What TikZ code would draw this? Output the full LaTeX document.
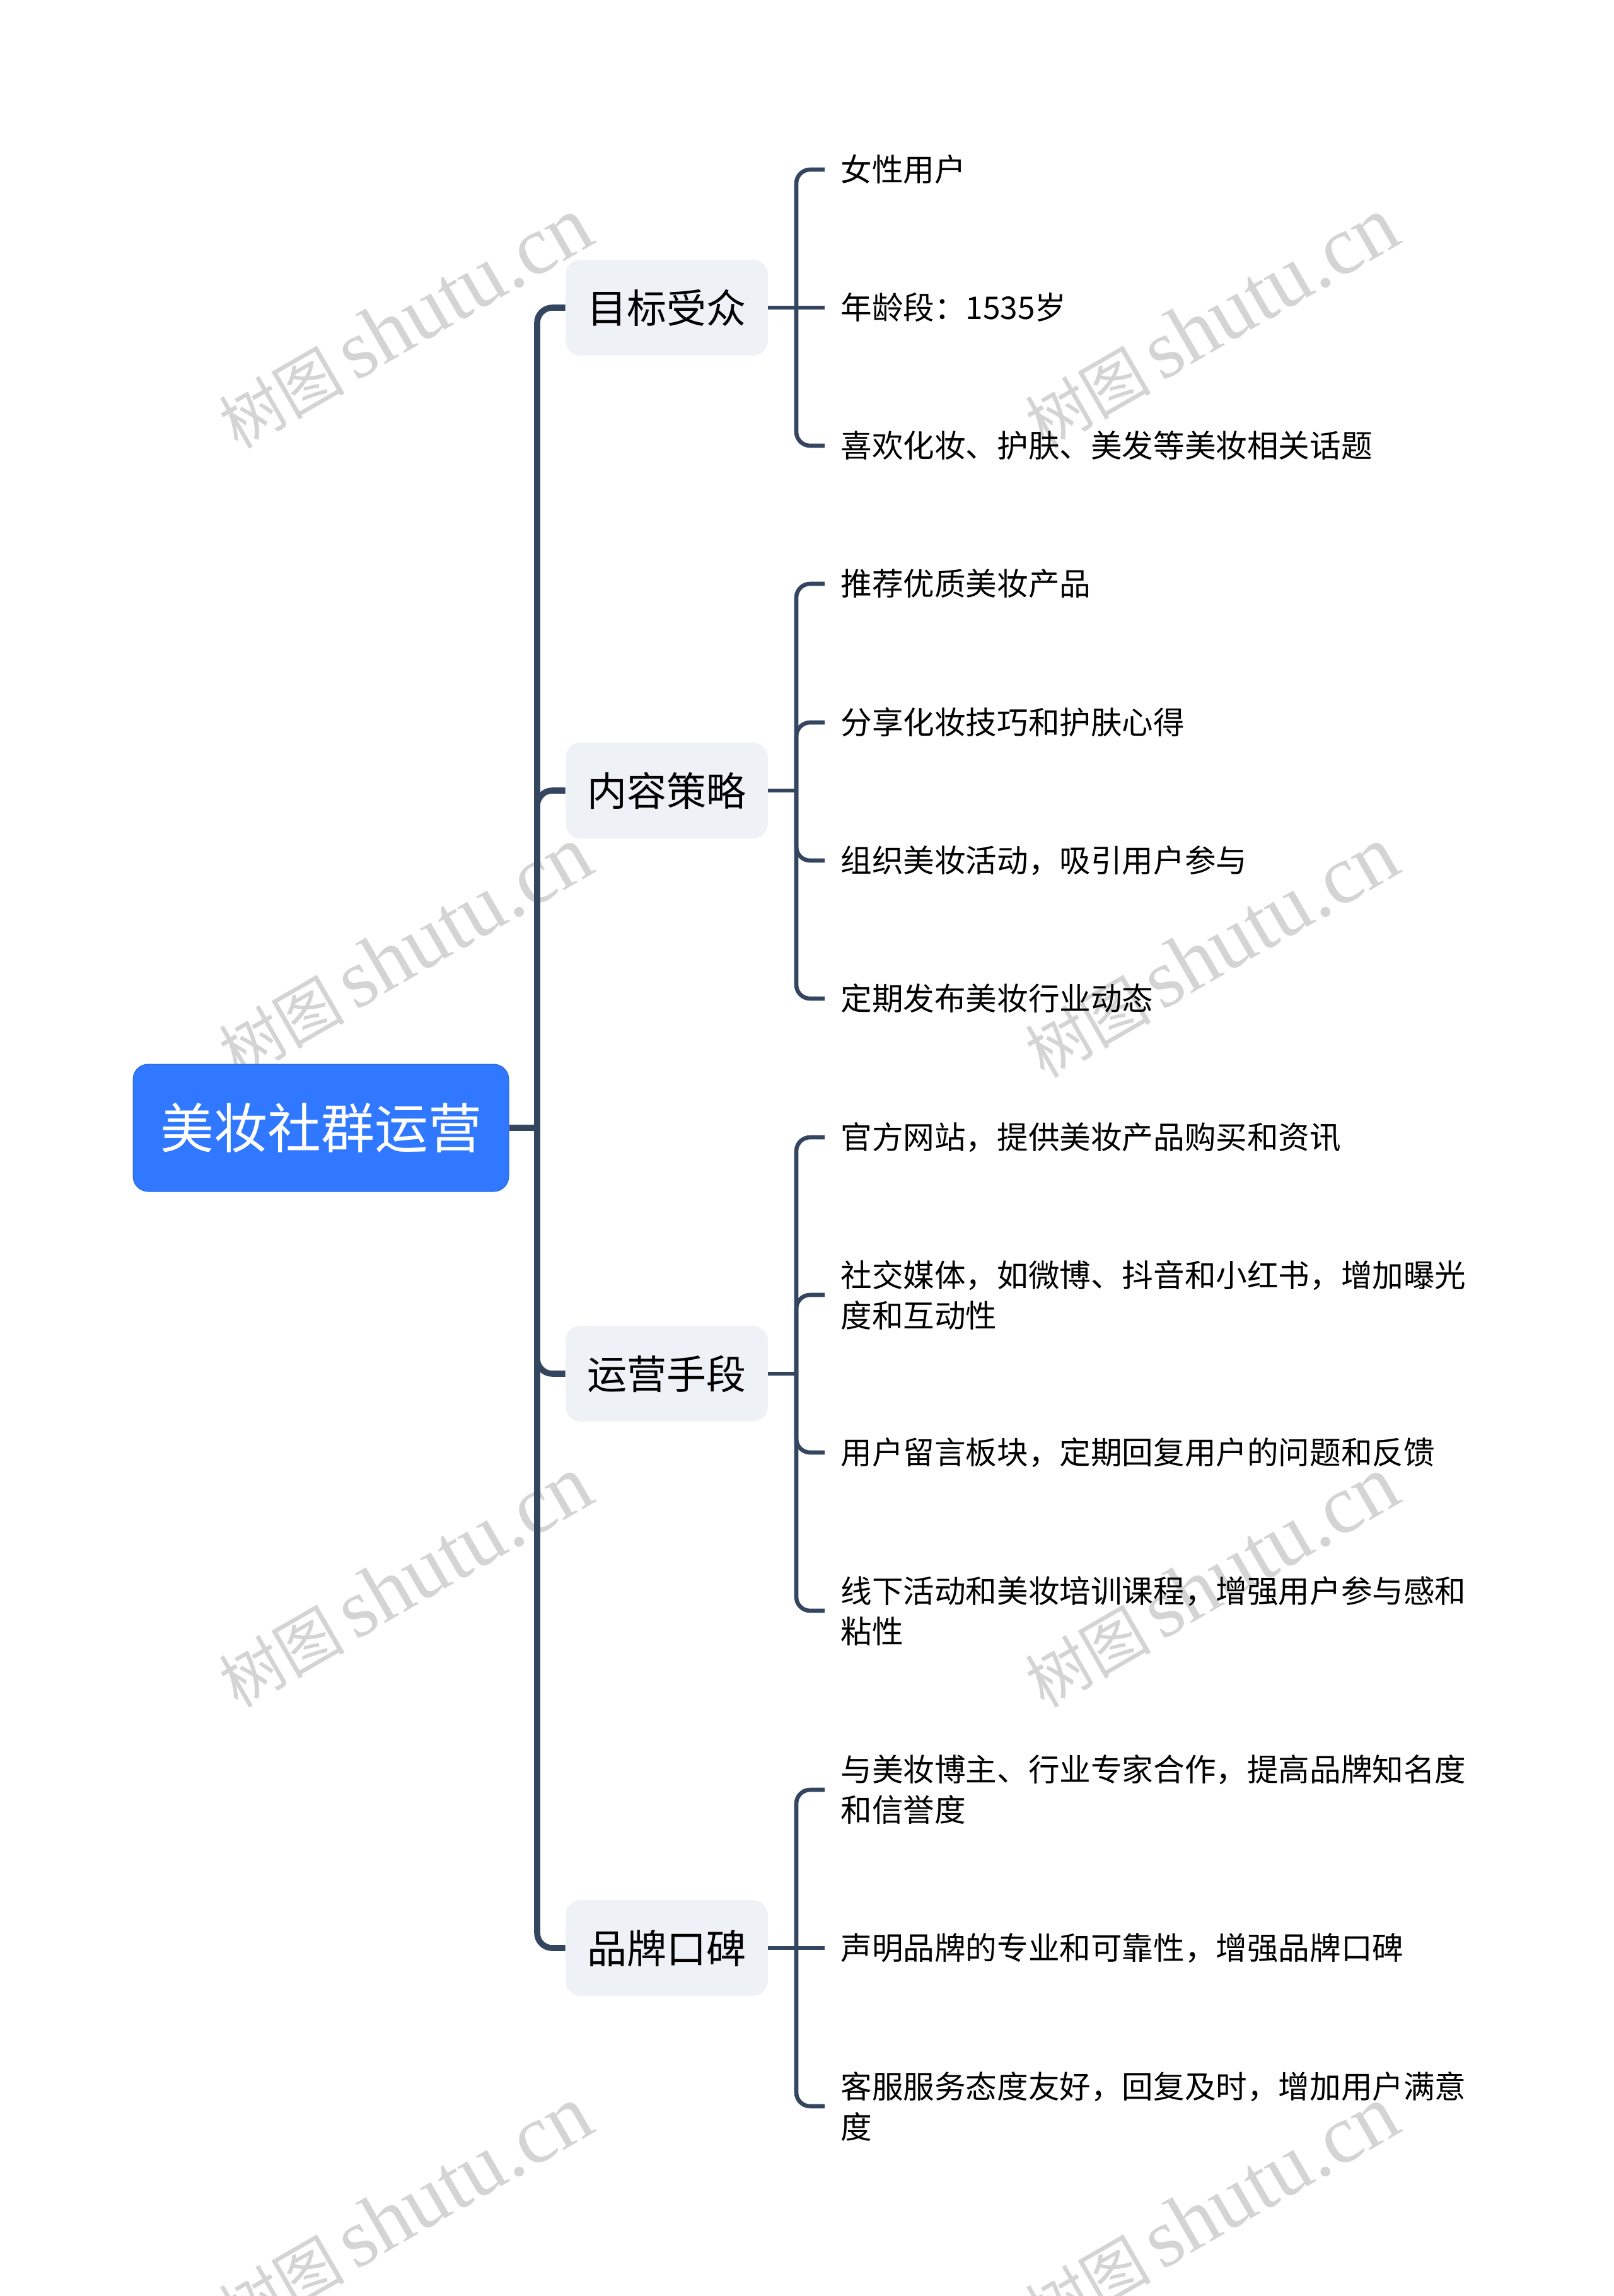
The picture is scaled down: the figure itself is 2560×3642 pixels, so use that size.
\documentclass[tikz,border=0pt]{standalone}
\usepackage{fontspec}
\setmainfont{Noto Sans CJK SC}
\newfontfamily\markfont{Liberation Serif}
\usetikzlibrary{positioning}

\definecolor{linecol}{HTML}{34465F}
\definecolor{rootcol}{HTML}{3078FF}
\definecolor{boxcol}{HTML}{EEF1F5}
\definecolor{markcol}{HTML}{D4D4D4}

\tikzset{
  rootbox/.style={draw=rootcol!85!black, line width=0.5pt, fill=rootcol, text=white, rounded corners=12pt,
    minimum width=298pt, minimum height=101pt, inner sep=0pt, font=\fontsize{42.5pt}{50pt}\selectfont},
  groupbox/.style={fill=boxcol, text=black, rounded corners=12pt,
    minimum width=160.5pt, minimum height=76pt, inner sep=0pt, font=\fontsize{31.5pt}{40pt}\selectfont},
  leafbox/.style={anchor=west, align=left, inner xsep=12.5pt, inner ysep=0pt, text=black,
    font=\fontsize{24.8pt}{32pt}\selectfont},
  bigline/.style={draw=linecol, line width=4.8pt, rounded corners=12pt},
  leafline/.style={draw=linecol, line width=3.3pt, rounded corners=11pt},
  markbox/.style={text=markcol, rotate=30, inner sep=0pt}
}

\begin{document}
\begin{tikzpicture}[x=0.5pt, y=-0.5pt]
    \useasboundingbox (0,0) rectangle (2560,3642);

    % watermark
    \foreach \i in {642,1921} {
      \foreach \j in {512,1510,2509,3508} {
        \node[markbox] (mark\i\j) at (\i,\j) {\fontsize{50pt}{60pt}\selectfont 树图\hspace{8pt}{\markfont\fontsize{66pt}{70pt}\selectfont shutu.cn}};
      }
    }

    \node[rootbox] (root) at (509,1789) {美妆社群运营};
    \coordinate (hub) at (852,1789);

    \node[groupbox] (target) at (1057.5,488) {目标受众};
    \node[groupbox] (content) at (1057.5,1254) {内容策略};
    \node[groupbox] (means) at (1057.5,2179) {运营手段};
    \node[groupbox] (brand) at (1057.5,3090) {品牌口碑};

    \node[leafbox] (a1) at (1308,269) {女性用户};
    \node[leafbox] (a2) at (1308,488) {年龄段：1535岁};
    \node[leafbox] (a3) at (1308,707) {喜欢化妆、护肤、美发等美妆相关话题};
    \node[leafbox] (b1) at (1308,926) {推荐优质美妆产品};
    \node[leafbox] (b2) at (1308,1146) {分享化妆技巧和护肤心得};
    \node[leafbox] (b3) at (1308,1365) {组织美妆活动，吸引用户参与};
    \node[leafbox] (b4) at (1308,1584) {定期发布美妆行业动态};
    \node[leafbox] (c1) at (1308,1804) {官方网站，提供美妆产品购买和资讯};
    \node[leafbox] (c2) at (1308,2054) {社交媒体，如微博、抖音和小红书，增加曝光\\度和互动性};
    \node[leafbox] (c3) at (1308,2304) {用户留言板块，定期回复用户的问题和反馈};
    \node[leafbox] (c4) at (1308,2555) {线下活动和美妆培训课程，增强用户参与感和\\粘性};
    \node[leafbox] (d1) at (1308,2839) {与美妆博主、行业专家合作，提高品牌知名度\\和信誉度};
    \node[leafbox] (d2) at (1308,3090) {声明品牌的专业和可靠性，增强品牌口碑};
    \node[leafbox] (d3) at (1308,3341) {客服服务态度友好，回复及时，增加用户满意\\度};

    \coordinate (abus) at (1263,488);
    \coordinate (bbus) at (1263,1254);
    \coordinate (cbus) at (1263,2179);
    \coordinate (dbus) at (1263,3090);

    % connectors
    \draw[bigline] (root.east) -- (hub);
    \foreach \g in {target, content, means, brand} {
      \draw[bigline] (hub) |- (\g.west);
    }
    \draw[leafline] (target.east) -- (a2.west);
    \draw[leafline] (content.east) -- (bbus);
    \draw[leafline] (means.east) -- (cbus);
    \draw[leafline] (brand.east) -- (d2.west);
    \foreach \bus/\leaf in {abus/a1, abus/a3, bbus/b1, bbus/b2, bbus/b3, bbus/b4,
      cbus/c1, cbus/c2, cbus/c3, cbus/c4, dbus/d1, dbus/d3} {
      \draw[leafline] (\bus) |- (\leaf.west);
    }
  \end{tikzpicture}
\end{document}
